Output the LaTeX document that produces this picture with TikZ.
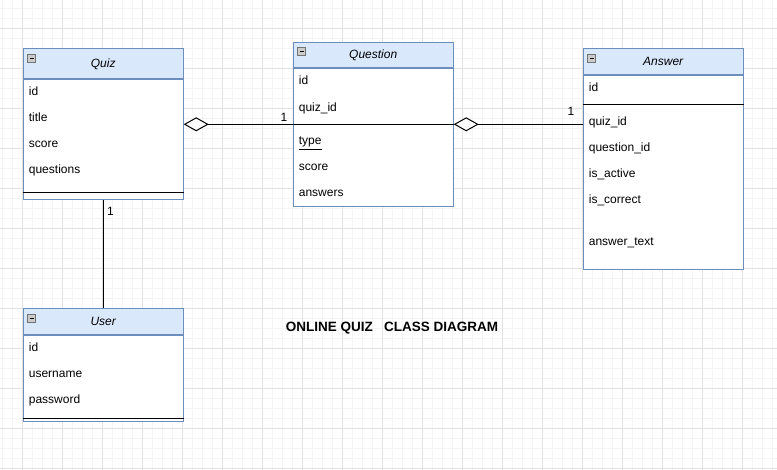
\documentclass[tikz,border=0pt]{standalone}
\usepackage{fontspec}
\setmainfont{Liberation Sans}
\usetikzlibrary{positioning,arrows.meta}
\definecolor{umlline}{HTML}{6C8EBF}
\definecolor{umlfill}{HTML}{DAE8FC}
\definecolor{gridmajor}{HTML}{E2E2E2}
\definecolor{gridminor}{HTML}{F4F4F4}
\tikzset{
  classhead/.style={draw=umlline, fill=umlfill, minimum width=160pt, anchor=north west, inner sep=0pt, font=\itshape\fontsize{12}{14}\selectfont},
  classbody/.style={draw=umlline, fill=white, minimum width=160pt, anchor=north west, inner sep=0pt},
  attr/.style={anchor=west, inner sep=0pt, text height=9pt, text depth=0.4pt},
  tglbox/.style={draw=gray!90!black, fill=gray!40, line width=0.8pt, minimum width=8pt, minimum height=8pt, inner sep=0pt, anchor=north west,
    path picture={\draw[black, line width=1pt] ([xshift=2pt]path picture bounding box.west) -- ([xshift=-2pt]path picture bounding box.east);}},
  aggr/.style={{Diamond[length=25pt, width=14pt, fill=white]}-},
  mult/.style={inner sep=1pt}
}
\begin{document}
\begin{tikzpicture}[x=1pt, y=-1pt, line width=1pt, font=\fontsize{12}{14}\selectfont]
  \fill[white] (0,0) rectangle (777,470);
  \useasboundingbox (0,0) rectangle (777,470);
  % grid
  \foreach \gx in {2.3,12.3,...,777} \draw[gridminor] (\gx,0) -- (\gx,470);
  \foreach \gy in {8.3,18.3,...,470} \draw[gridminor] (0,\gy) -- (777,\gy);
  \foreach \gx in {22.3,62.3,...,777} \draw[gridmajor] (\gx,0) -- (\gx,470);
  \foreach \gy in {28.3,68.3,...,470} \draw[gridmajor] (0,\gy) -- (777,\gy);

  % Quiz
  \node[classhead, minimum height=30pt] (quizhead) at (22.7,48.3) {Quiz};
  \node[classbody, minimum height=120pt] (quizbody) at (quizhead.south west) {};
  \node[tglbox] (quiztgl) at ([xshift=4.6pt, yshift=-5.7pt]quizhead.north west) {};
  \foreach \t [count=\i] in {id,title,score,questions}
    \node[attr] (quiz\i) at (28.4,65.7+26*\i) {\t};
  \draw ([yshift=8pt]quizbody.south west) -- ([yshift=8pt]quizbody.south east);

  % Question
  \node[classhead, minimum height=25.6pt] (questhead) at (292.7,41.7) {Question};
  \node[classbody, minimum height=138pt] (questbody) at (questhead.south west) {};
  \node[tglbox] (questtgl) at ([xshift=4.6pt, yshift=-5.7pt]questhead.north west) {};
  \node[attr] (quest1) at (298.4,80.7) {id};
  \node[attr] (quest2) at (298.4,107) {quiz\_id};
  \node[attr] (quest3) at (298.4,140.7) {\underline{type}};
  \node[attr] (quest4) at (298.4,166.7) {score};
  \node[attr] (quest5) at (298.4,192.7) {answers};
  \coordinate (qsep) at ([yshift=-56pt]questbody.north west);
  \draw (qsep) -- (questbody.east |- qsep);

  % Answer
  \node[classhead, minimum height=26pt] (anshead) at (582.7,48.3) {Answer};
  \node[classbody, minimum height=194pt] (ansbody) at (anshead.south west) {};
  \node[tglbox] (anstgl) at ([xshift=4.6pt, yshift=-5.7pt]anshead.north west) {};
  \node[attr] (ans1) at (588.4,87.7) {id};
  \foreach \t [count=\i from 2] in {quiz\_id,question\_id,is\_active,is\_correct}
    \node[attr] (ans\i) at (588.4,69.7+26*\i) {\t};
  \node[attr] (ans6) at (588.4,241.7) {answer\_text};
  \draw ([yshift=-29.7pt]ansbody.north west) -- ([yshift=-29.7pt]ansbody.north east);

  % User
  \node[classhead, minimum height=25.7pt] (userhead) at (22.7,308.3) {User};
  \node[classbody, minimum height=86pt] (userbody) at (userhead.south west) {};
  \node[tglbox] (usertgl) at ([xshift=4.6pt, yshift=-5.7pt]userhead.north west) {};
  \foreach \t [count=\i] in {id,username,password}
    \node[attr] (user\i) at (28.4,321.7+26*\i) {\t};
  \draw ([yshift=3.7pt]userbody.south west) -- ([yshift=3.7pt]userbody.south east);

  % links
  \draw[aggr] (quizbody.east |- qsep) -- (qsep)
    node[mult, pos=1, anchor=south east, xshift=-4pt, yshift=1.5pt] {1};
  \draw[aggr] (questbody.east |- qsep) -- (ansbody.west |- qsep)
    node[mult, pos=1, anchor=south east, xshift=-7pt, yshift=7.7pt] {1};
  \draw (quizbody.south) -- (userhead.north)
    node[mult, pos=0, anchor=north west, xshift=2.3pt, yshift=-5.7pt] {1};

  \node[font=\bfseries\fontsize{13.5}{16}\selectfont] (title) at (392,328.3) {ONLINE QUIZ\ \ \ CLASS DIAGRAM};
\end{tikzpicture}
\end{document}
